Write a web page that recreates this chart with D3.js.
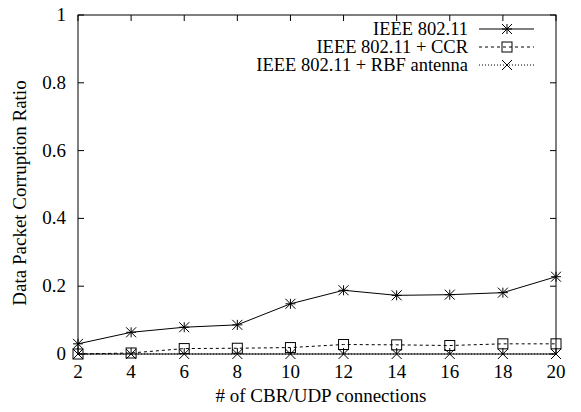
<!DOCTYPE html>
<html><head><meta charset="utf-8">
<script src="https://cdn.jsdelivr.net/npm/d3@7"></script>
<style>body{margin:0;background:#fff}svg{display:block}</style>
</head><body><svg id="c" width="581" height="412"></svg>
<script>
const connections = [2,4,6,8,10,12,14,16,18,20];
const ieee = [0.03,0.064,0.079,0.086,0.148,0.188,0.173,0.175,0.181,0.228];
const ccr = [0.0,0.003,0.016,0.017,0.019,0.028,0.027,0.025,0.03,0.03];
const rbf = [0,0,0,0,0,0,0,0,0,0];
const yTicks = [0,0.2,0.4,0.6,0.8,1];
const seriesNames = ["IEEE 802.11","IEEE 802.11 + CCR","IEEE 802.11 + RBF antenna"];

const svg = d3.select("#c");
const L=78,R=556,T=15,B=354;
const x = d3.scaleLinear().domain([2,20]).range([L,R]);
const y = d3.scaleLinear().domain([0,1]).range([B,T]);
const fs = 19;
const ff = "serif";
function txt(size){ return svg.append("text").attr("font-family",ff).attr("font-size",size||fs).attr("fill","#000"); }

const tk=6;
const g = svg.append("g").attr("stroke","#000").attr("stroke-width",1);
connections.forEach(v=>{
  g.append("line").attr("x1",x(v)).attr("x2",x(v)).attr("y1",B).attr("y2",B-tk);
  g.append("line").attr("x1",x(v)).attr("x2",x(v)).attr("y1",T).attr("y2",T+tk);
});
yTicks.forEach(v=>{
  g.append("line").attr("x1",L).attr("x2",L+tk).attr("y1",y(v)).attr("y2",y(v));
  g.append("line").attr("x1",R).attr("x2",R-tk).attr("y1",y(v)).attr("y2",y(v));
});
svg.append("rect").attr("x",L).attr("y",T).attr("width",R-L).attr("height",B-T).attr("fill","none").attr("stroke","#000");

connections.forEach(v=>txt().attr("x",x(v)).attr("y",B+24).attr("text-anchor","middle").text(v));
yTicks.forEach(v=>txt().attr("x",L-12).attr("y",y(v)+6).attr("text-anchor","end").text(v));

txt().attr("x",321).attr("y",402).attr("text-anchor","middle").text("# of CBR/UDP connections");
txt().attr("transform",`translate(26,193) rotate(-90)`).attr("text-anchor","middle").text("Data Packet Corruption Ratio");

const ms=5;
function marker(sel,type,cx,cy){
  const p = sel.append("g").attr("stroke","#000").attr("fill","none").attr("stroke-width",1);
  if(type==="star"){
    p.append("line").attr("x1",cx-ms).attr("x2",cx+ms).attr("y1",cy).attr("y2",cy);
    p.append("line").attr("x1",cx).attr("x2",cx).attr("y1",cy-ms).attr("y2",cy+ms);
    p.append("line").attr("x1",cx-ms).attr("x2",cx+ms).attr("y1",cy-ms).attr("y2",cy+ms);
    p.append("line").attr("x1",cx-ms).attr("x2",cx+ms).attr("y1",cy+ms).attr("y2",cy-ms);
  } else if(type==="square"){
    p.append("rect").attr("x",cx-ms).attr("y",cy-ms).attr("width",2*ms).attr("height",2*ms);
  } else {
    p.append("line").attr("x1",cx-ms).attr("x2",cx+ms).attr("y1",cy-ms).attr("y2",cy+ms);
    p.append("line").attr("x1",cx-ms).attr("x2",cx+ms).attr("y1",cy+ms).attr("y2",cy-ms);
  }
}
const series=[
  {vals:ieee,dash:null,m:"star"},
  {vals:ccr,dash:"3,3",m:"square"},
  {vals:rbf,dash:"1,2",m:"x"}
];
const line=d3.line().x((d,i)=>x(connections[i])).y(d=>y(d));
series.forEach((s,k)=>{
  svg.append("path").attr("d",line(s.vals)).attr("fill","none").attr("stroke","#000").attr("stroke-width",1).attr("stroke-dasharray",s.dash);
  s.vals.forEach((v,i)=>marker(svg,s.m,x(connections[i]),y(v)));
  const ly=29+k*18;
  txt(18.5).attr("x",468).attr("y",ly+6).attr("text-anchor","end").text(seriesNames[k]);
  svg.append("line").attr("x1",479).attr("x2",534).attr("y1",ly).attr("y2",ly).attr("stroke","#000").attr("stroke-dasharray",s.dash);
  marker(svg,s.m,507,ly);
});
</script></body></html>
